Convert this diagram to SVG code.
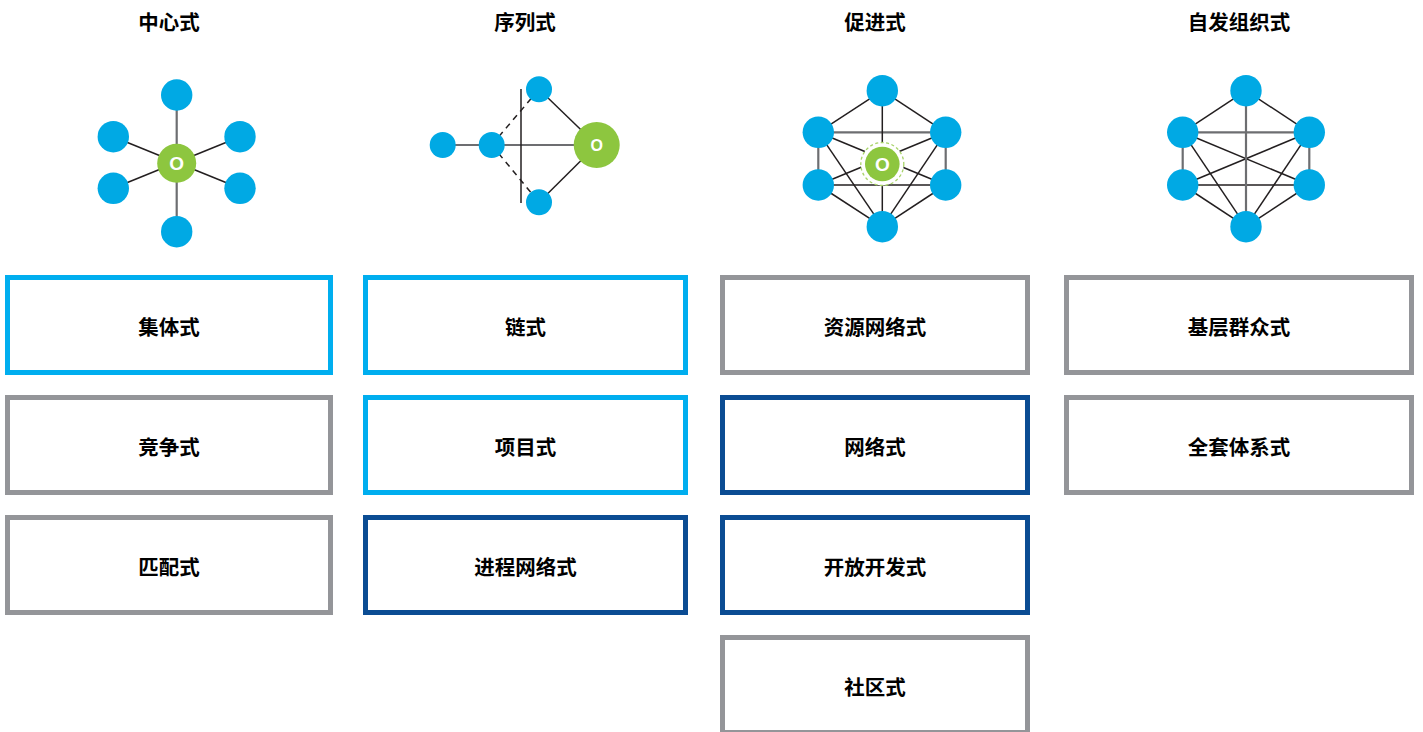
<svg xmlns="http://www.w3.org/2000/svg" width="1423" height="732" viewBox="0 0 1423 732">
<style>
.title{font-family:"Liberation Sans","Noto Sans CJK SC",sans-serif;font-size:20.5px;font-weight:bold;fill:#000;text-anchor:middle}
.lbl{font-family:"Liberation Sans","Noto Sans CJK SC",sans-serif;font-size:20.5px;font-weight:bold;fill:#000;text-anchor:middle}
.o{font-family:"Liberation Sans",sans-serif;font-weight:bold;fill:#fff;text-anchor:middle}
.box{fill:#fff;stroke-width:5}
.lb{stroke:#00AEEF}
.gy{stroke:#949599}
.db{stroke:#0B4C93}
.n{fill:#00A9E4}
.g{fill:#8DC63F}
.e{stroke:#231F20;stroke-width:1.5;fill:none}
.eg{stroke:#6D6E71;stroke-width:2.2;fill:none}
.dash{stroke:#231F20;stroke-width:1.5;stroke-dasharray:6 5;fill:none}
</style>
<rect width="1423" height="732" fill="#fff"/>
<g id="titles">
<text class="title" x="169" y="29.5">中心式</text>
<text class="title" x="525" y="29.5">序列式</text>
<text class="title" x="875" y="29.5">促进式</text>
<text class="title" x="1239" y="29.5">自发组织式</text>
</g>
<g id="connectors">
<line class="eg" x1="176.7" y1="95" x2="176.7" y2="231.7"/>
<line class="e" x1="113.3" y1="136.7" x2="240" y2="188.3"/>
<line class="e" x1="113.3" y1="188.3" x2="240" y2="136.7"/>
<line class="eg" x1="442.7" y1="145" x2="596.7" y2="145"/>
<line class="e" x1="521" y1="89" x2="521" y2="203" stroke-width="1.8"/>
<line class="dash" x1="491.7" y1="145" x2="539" y2="89.3"/>
<line class="dash" x1="491.7" y1="145" x2="539" y2="202.3"/>
<line class="e" x1="539" y1="89.3" x2="596.7" y2="145"/>
<line class="e" x1="539" y1="202.3" x2="596.7" y2="145"/>
<line class="e" x1="882.3" y1="90.7" x2="818.3" y2="132.3"/>
<line class="e" x1="882.3" y1="90.7" x2="945.7" y2="132.3"/>
<line class="eg" x1="818.3" y1="132.3" x2="818.3" y2="185"/>
<line class="eg" x1="945.7" y1="132.3" x2="945.7" y2="185"/>
<line class="e" x1="818.3" y1="185" x2="882.3" y2="226.7"/>
<line class="e" x1="945.7" y1="185" x2="882.3" y2="226.7"/>
<line class="eg" x1="818.3" y1="132.3" x2="945.7" y2="132.3"/>
<line class="e" x1="818.3" y1="185" x2="945.7" y2="185"/>
<line class="e" x1="818.3" y1="132.3" x2="882.3" y2="226.7"/>
<line class="e" x1="945.7" y1="132.3" x2="882.3" y2="226.7"/>
<line class="e" x1="818.3" y1="132.3" x2="945.7" y2="185"/>
<line class="e" x1="818.3" y1="185" x2="945.7" y2="132.3"/>
<line class="e" x1="882.3" y1="90.7" x2="882.3" y2="226.7"/>
<line class="e" x1="1246" y1="90.7" x2="1182.7" y2="132.3"/>
<line class="e" x1="1246" y1="90.7" x2="1309.3" y2="132.3"/>
<line class="eg" x1="1182.7" y1="132.3" x2="1182.7" y2="185"/>
<line class="eg" x1="1309.3" y1="132.3" x2="1309.3" y2="185"/>
<line class="e" x1="1182.7" y1="185" x2="1246" y2="226.7"/>
<line class="e" x1="1309.3" y1="185" x2="1246" y2="226.7"/>
<line class="eg" x1="1182.7" y1="132.3" x2="1309.3" y2="132.3"/>
<line class="e" x1="1182.7" y1="185" x2="1309.3" y2="185"/>
<line class="e" x1="1182.7" y1="132.3" x2="1246" y2="226.7"/>
<line class="e" x1="1309.3" y1="132.3" x2="1246" y2="226.7"/>
<line class="e" x1="1182.7" y1="132.3" x2="1309.3" y2="185"/>
<line class="e" x1="1182.7" y1="185" x2="1309.3" y2="132.3"/>
<line class="eg" x1="1246" y1="90.7" x2="1246" y2="226.7"/>
</g>
<g id="net-central">
<circle class="n" cx="176.7" cy="95" r="15.7"/>
<circle class="n" cx="113.3" cy="136.7" r="15.7"/>
<circle class="n" cx="113.3" cy="188.3" r="15.7"/>
<circle class="n" cx="240" cy="136.7" r="15.7"/>
<circle class="n" cx="240" cy="188.3" r="15.7"/>
<circle class="n" cx="176.7" cy="231.7" r="15.7"/>
<circle class="g" cx="176.7" cy="163.3" r="19.5"/>
<text class="o" x="176.7" y="170" font-size="19">O</text>
</g>
<g id="net-sequence">
<circle class="n" cx="442.7" cy="145" r="13"/>
<circle class="n" cx="491.7" cy="145" r="13"/>
<circle class="n" cx="539" cy="89.3" r="13"/>
<circle class="n" cx="539" cy="202.3" r="13"/>
<circle class="g" cx="596.7" cy="145" r="23"/>
<text class="o" x="596.7" y="150.8" font-size="16">O</text>
</g>
<g id="net-facilitated">
<circle class="n" cx="882.3" cy="90.7" r="15.7"/>
<circle class="n" cx="818.3" cy="132.3" r="15.7"/>
<circle class="n" cx="818.3" cy="185" r="15.7"/>
<circle class="n" cx="945.7" cy="132.3" r="15.7"/>
<circle class="n" cx="945.7" cy="185" r="15.7"/>
<circle class="n" cx="882.3" cy="226.7" r="15.7"/>
<circle cx="882.3" cy="164" r="21.5" fill="#fff" stroke="#A8D36A" stroke-width="1.3" stroke-dasharray="3 2.5"/>
<circle class="g" cx="882.3" cy="164" r="17.3"/>
<text class="o" x="882.3" y="170.7" font-size="19">O</text>
</g>
<g id="net-selforg">
<circle class="n" cx="1246" cy="90.7" r="15.7"/>
<circle class="n" cx="1182.7" cy="132.3" r="15.7"/>
<circle class="n" cx="1182.7" cy="185" r="15.7"/>
<circle class="n" cx="1309.3" cy="132.3" r="15.7"/>
<circle class="n" cx="1309.3" cy="185" r="15.7"/>
<circle class="n" cx="1246" cy="226.7" r="15.7"/>
</g>
<g id="box-jiti"><rect class="box lb" x="7.5" y="277.5" width="323" height="95"/><text class="lbl" x="169" y="334.5">集体式</text></g>
<g id="box-jingzheng"><rect class="box gy" x="7.5" y="397.5" width="323" height="95"/><text class="lbl" x="169" y="454.5">竞争式</text></g>
<g id="box-pipei"><rect class="box gy" x="7.5" y="517.5" width="323" height="95"/><text class="lbl" x="169" y="574.5">匹配式</text></g>
<g id="box-lian"><rect class="box lb" x="365.5" y="277.5" width="320" height="95"/><text class="lbl" x="525.5" y="334.5">链式</text></g>
<g id="box-xiangmu"><rect class="box lb" x="365.5" y="397.5" width="320" height="95"/><text class="lbl" x="525.5" y="454.5">项目式</text></g>
<g id="box-jincheng"><rect class="box db" x="365.5" y="517.5" width="320" height="95"/><text class="lbl" x="525.5" y="574.5">进程网络式</text></g>
<g id="box-ziyuan"><rect class="box gy" x="722.5" y="277.5" width="305" height="95"/><text class="lbl" x="875" y="334.5">资源网络式</text></g>
<g id="box-wangluo"><rect class="box db" x="722.5" y="397.5" width="305" height="95"/><text class="lbl" x="875" y="454.5">网络式</text></g>
<g id="box-kaifang"><rect class="box db" x="722.5" y="517.5" width="305" height="95"/><text class="lbl" x="875" y="574.5">开放开发式</text></g>
<g id="box-shequ"><rect class="box gy" x="722.5" y="637.5" width="305" height="95"/><text class="lbl" x="875" y="694.5">社区式</text></g>
<g id="box-jiceng"><rect class="box gy" x="1066.5" y="277.5" width="345" height="95"/><text class="lbl" x="1239" y="334.5">基层群众式</text></g>
<g id="box-quantao"><rect class="box gy" x="1066.5" y="397.5" width="345" height="95"/><text class="lbl" x="1239" y="454.5">全套体系式</text></g>
</svg>
